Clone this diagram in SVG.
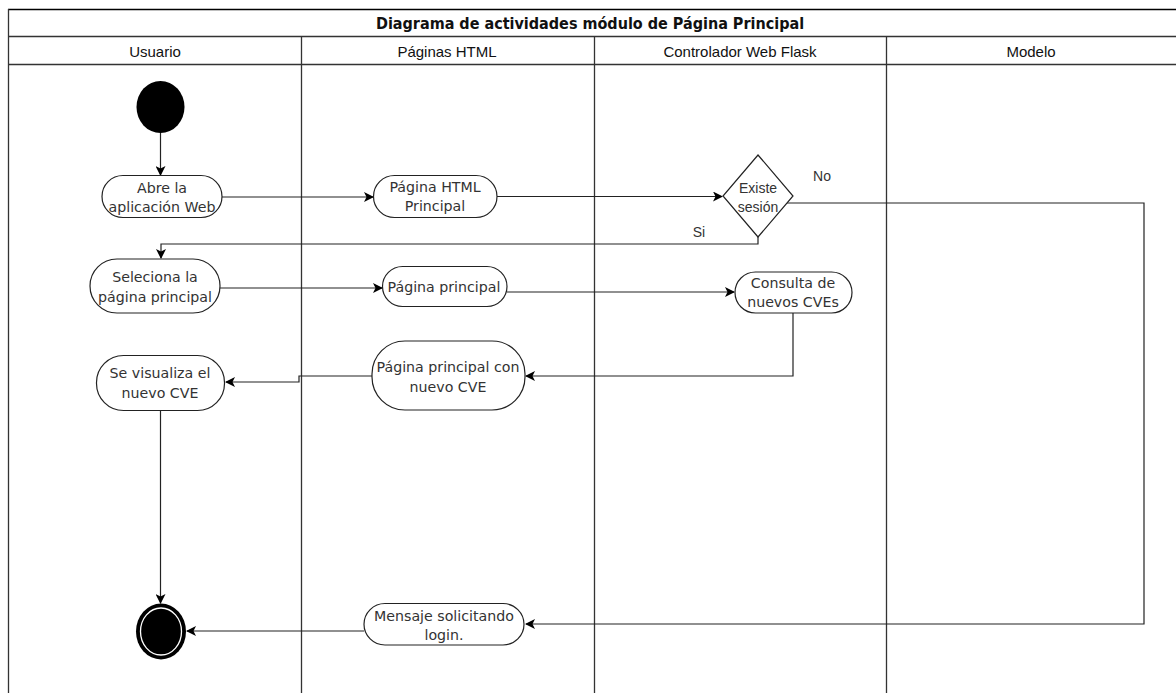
<svg xmlns="http://www.w3.org/2000/svg" width="1176" height="693" viewBox="0 0 1176 693">
<defs>
<marker id="arr" viewBox="0 0 10 10" refX="9" refY="5" markerWidth="10" markerHeight="10" markerUnits="userSpaceOnUse" orient="auto">
<path d="M0,0 L10,5 L0,10 L2.5,5 Z" fill="#000"/>
</marker>
<style>
.frame{fill:none;stroke:#333;stroke-width:1.3}
.node{fill:#fff;stroke:#222;stroke-width:1.2}
.edge{fill:none;stroke:#222;stroke-width:1.2}
.t{font-family:"DejaVu Sans",Verdana,sans-serif;font-size:14.2px;fill:#333;text-anchor:middle}
.h{font-family:"Liberation Sans",Arial,sans-serif;font-size:15px;fill:#111;text-anchor:middle}
.s{font-family:"Liberation Sans",Arial,sans-serif;font-size:14px;fill:#333;text-anchor:middle}
.title{font-family:"DejaVu Sans Condensed","DejaVu Sans",sans-serif;font-size:16px;font-weight:bold;fill:#111;text-anchor:middle}
</style>
</defs>
<rect width="1176" height="693" fill="#fff"/>
<g id="pool">
<line x1="8" y1="9.5" x2="1176" y2="9.5" stroke="#000" stroke-width="1.5"/>
<line x1="8" y1="36.5" x2="1176" y2="36.5" class="frame"/>
<line x1="8" y1="64.5" x2="1176" y2="64.5" class="frame"/>
<line x1="8.5" y1="9" x2="8.5" y2="693" class="frame"/>
<line x1="301.5" y1="36" x2="301.5" y2="693" class="frame"/>
<line x1="594.5" y1="36" x2="594.5" y2="693" class="frame"/>
<line x1="886.5" y1="36" x2="886.5" y2="693" class="frame"/>
<text x="590" y="29" class="title">Diagrama de actividades módulo de Página Principal</text>
<text x="155" y="57" class="h">Usuario</text>
<text x="447" y="57" class="h">Páginas HTML</text>
<text x="740" y="57" class="h">Controlador Web Flask</text>
<text x="1031" y="57" class="h">Modelo</text>
</g>
<g id="connectors">
<path class="edge" d="M160.5,133 L160.5,175" marker-end="url(#arr)"/>
<path class="edge" d="M222,197 L373,197" marker-end="url(#arr)"/>
<path class="edge" d="M497,196.5 L722,196.5" marker-end="url(#arr)"/>
<path class="edge" d="M758,237 L758,244 L161,244 L161,258" marker-end="url(#arr)"/>
<path class="edge" d="M787,203 L1144,203 L1144,624 L526,624" marker-end="url(#arr)"/>
<path class="edge" d="M220,288 L382,288" marker-end="url(#arr)"/>
<path class="edge" d="M507,292 L734,292" marker-end="url(#arr)"/>
<path class="edge" d="M793,313 L793,376 L526,376" marker-end="url(#arr)"/>
<path class="edge" d="M372,376 L299,376 L299,382 L226,382" marker-end="url(#arr)"/>
<path class="edge" d="M160.5,410 L160.5,603" marker-end="url(#arr)"/>
<path class="edge" d="M364,631 L187,631" marker-end="url(#arr)"/>
<text x="822" y="181" class="s">No</text>
<text x="699" y="237" class="s">Si</text>
</g>
<g id="start">
<ellipse cx="160.5" cy="107" rx="24" ry="26" fill="#000"/>
</g>
<g id="abre">
<rect class="node" x="102" y="175.5" width="120" height="42" rx="21"/>
<text class="t" x="162" y="193">Abre la</text>
<text class="t" x="162" y="212">aplicación Web</text>
</g>
<g id="paginaHTML">
<rect class="node" x="373.5" y="175.5" width="123.5" height="42" rx="21"/>
<text class="t" x="435" y="192">Página HTML</text>
<text class="t" x="435" y="211">Principal</text>
</g>
<g id="decision">
<polygon class="node" points="758,155 793,196 758,237 723,196"/>
<text class="s" x="758" y="193">Existe</text>
<text class="s" x="758" y="212">sesión</text>
</g>
<g id="seleciona">
<rect class="node" x="90" y="259" width="130" height="54" rx="27"/>
<text class="t" x="155" y="282">Seleciona la</text>
<text class="t" x="155" y="302">página principal</text>
</g>
<g id="paginaPrincipal">
<rect class="node" x="382.5" y="266.5" width="124.5" height="40" rx="20"/>
<text class="t" x="444" y="292">Página principal</text>
</g>
<g id="consulta">
<rect class="node" x="735" y="272" width="117" height="41" rx="20.5"/>
<text class="t" x="793" y="288">Consulta de</text>
<text class="t" x="793" y="307">nuevos CVEs</text>
</g>
<g id="paginaNuevo">
<rect class="node" x="372" y="341" width="153" height="69" rx="33"/>
<text class="t" x="448" y="372">Página principal con</text>
<text class="t" x="448" y="392">nuevo CVE</text>
</g>
<g id="visualiza">
<rect class="node" x="96.5" y="355.5" width="128" height="55" rx="27"/>
<text class="t" x="160" y="378">Se visualiza el</text>
<text class="t" x="160" y="398">nuevo CVE</text>
</g>
<g id="mensaje">
<rect class="node" x="364" y="603.5" width="160" height="41.5" rx="21"/>
<text class="t" x="444" y="621">Mensaje solicitando</text>
<text class="t" x="444" y="640">login.</text>
</g>
<g id="end">
<ellipse cx="161" cy="631.5" rx="25" ry="28" fill="#000"/>
<ellipse cx="161" cy="631.5" rx="20.5" ry="23.5" fill="#000" stroke="#fff" stroke-width="1.3"/>
</g>
</svg>
